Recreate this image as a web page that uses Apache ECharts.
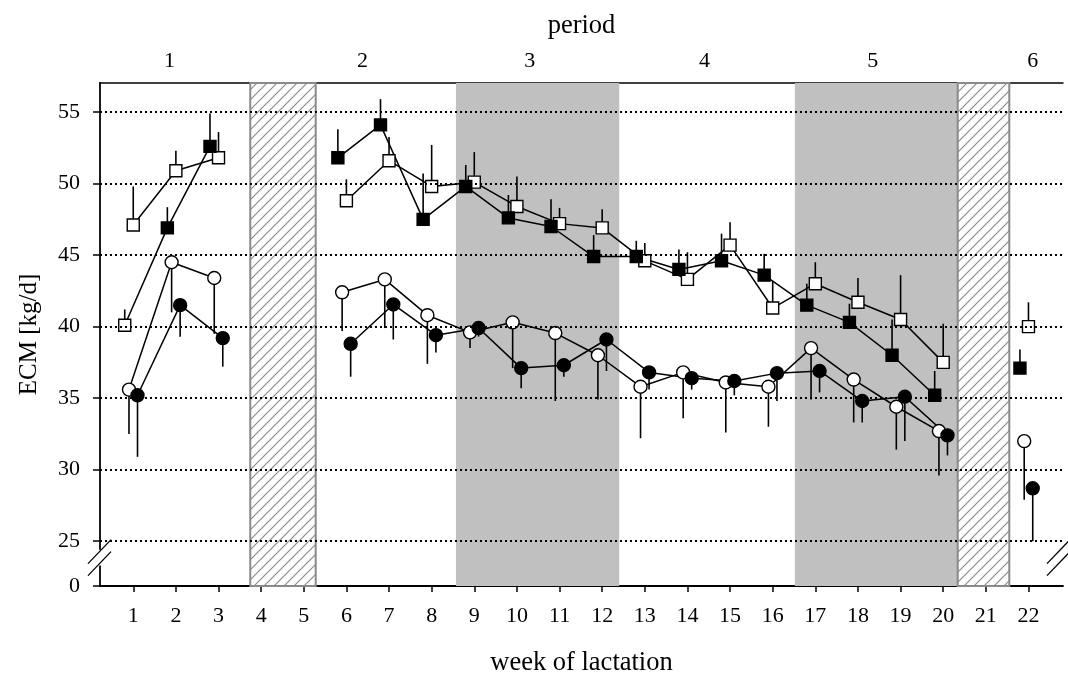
<!DOCTYPE html>
<html>
<head>
<meta charset="utf-8">
<script src="https://cdn.jsdelivr.net/npm/echarts@6/dist/echarts.min.js"></script>
<style>
html,body{margin:0;padding:0;background:#fff;}
#chart{width:1068px;height:680px;}
</style>
</head>
<body>
<div id="chart"></div>
<script>
// ---------- data ----------
const weeks = [1,2,3,4,5,6,7,8,9,10,11,12,13,14,15,16,17,18,19,20,21,22];
// open squares
const openSq    = [47.1,50.9,51.8,null,null,48.8,51.6,49.8,50.1,48.4,47.2,46.9,44.6,43.3,45.7,41.3,43.0,41.7,40.5,37.5,null,40.0];
const openSqErr = [49.8,52.3,53.6,null,null,50.3,53.25,52.7,52.2,50.5,48.3,48.2,45.85,45.2,47.3,43.2,44.5,43.4,43.6,40.2,null,41.7];
// filled squares
const fillSq    = [40.1,46.9,52.6,null,null,51.8,54.1,47.5,49.8,47.6,47.0,44.9,44.9,44.0,44.6,43.6,41.5,40.3,38.0,35.2,null,37.1];
const fillSqErr = [41.2,48.35,54.9,null,null,53.8,55.9,50.7,51.3,49.2,48.9,46.4,46.0,45.4,46.5,45.1,43.0,41.6,40.5,36.9,null,38.4];
// open circles
const openCi    = [35.6,44.5,43.4,null,null,42.4,43.3,40.8,39.6,40.3,39.55,38.0,35.8,36.8,36.1,35.8,38.5,36.3,34.4,32.7,null,32.0];
const openCiErr = [32.5,41.0,39.5,null,null,39.7,39.9,37.4,38.5,37.1,34.8,34.9,32.2,33.6,32.6,33.0,34.9,33.3,31.4,29.6,null,27.9];
// filled circles
const fillCi    = [35.2,41.5,39.2,null,null,38.8,41.55,39.4,39.9,37.1,37.3,39.1,36.8,36.4,36.2,36.75,36.9,34.8,35.1,32.4,null,28.7];
const fillCiErr = [30.9,39.3,37.2,null,null,36.5,39.1,38.2,39.3,35.7,36.5,36.9,35.6,35.6,35.2,34.8,35.4,33.3,32.0,31.0,null,25.0];

const yTicks = [25,30,35,40,45,50,55];
const periodLabels = ['1','2','3','4','5','6'];
const periodTickPos = [1.85,6.38,10.3,14.4,18.35,22.1];
const grayBands  = [[8.57,12.40],[16.52,20.34]];
const hatchBands = [[3.745,5.28],[20.34,21.55]];

// ---------- axis constants ----------
const X_MIN = 0.22, X_MAX = 22.81;
const Y_MIN = 21.87, Y_MAX = 57.03;   // Y_MIN is shown as "0" (broken axis)
const FONT = 'Liberation Serif';

// hatch pattern
const T = 10;
const pat = document.createElement('canvas');
pat.width = T; pat.height = T;
(function(){
  const c = pat.getContext('2d');
  c.fillStyle = '#fff'; c.fillRect(0,0,T,T);
  c.strokeStyle = '#8c8c8c'; c.lineWidth = 1.2;
  c.beginPath();
  c.moveTo(-1,T+1); c.lineTo(T+1,-1);
  c.moveTo(-1,1); c.lineTo(1,-1);
  c.moveTo(T-1,T+1); c.lineTo(T+1,T-1);
  c.stroke();
})();

function build(vals, off, whiteWeeks) {
  return weeks.map((w,i) => {
    const v = vals[i];
    if (v === null) return [w+off, '-'];
    if (whiteWeeks && whiteWeeks.indexOf(w) >= 0) return {value:[w+off, v], itemStyle:{color:'#fff'}};
    return [w+off, v];
  });
}
function buildErr(vals, errs, off) {
  const out = [];
  weeks.forEach((w,i) => { if (vals[i] !== null) out.push([w+off, vals[i], errs[i]]); });
  return out;
}

const OFF_FSQ = -0.2, OFF_OSQ = 0.0, OFF_OCI = -0.1, OFF_FCI = 0.1;

function errSeries(vals, errs, off) {
  return {
    type:'custom', xAxisIndex:0, yAxisIndex:0, z:2, silent:true,
    data: buildErr(vals, errs, off),
    encode:{x:0, y:[1,2]},
    renderItem:(params, api) => {
      const p1 = api.coord([api.value(0), api.value(1)]);
      const p2 = api.coord([api.value(0), api.value(2)]);
      return {type:'line', shape:{x1:p1[0],y1:p1[1],x2:p2[0],y2:p2[1]},
              style:{stroke:'#000', lineWidth:1.6}};
    }
  };
}
function lineSeries(name, vals, off, symbol, size, filled, whiteWeeks) {
  return {
    name, type:'line', xAxisIndex:0, yAxisIndex:0, z:3,
    data: build(vals, off, whiteWeeks),
    symbol, symbolSize:size, showSymbol:true, connectNulls:false,
    lineStyle:{color:'#000', width:1.5},
    itemStyle:{color: filled ? '#000' : '#fff', borderColor:'#000', borderWidth:1.4, opacity:1},
    emphasis:{disabled:true}, animation:false
  };
}

const chart = echarts.init(document.getElementById('chart'), null, {renderer:'canvas'});

const option = {
  animation:false,
  backgroundColor:'#fff',
  textStyle:{fontFamily:FONT},
  grid:{left:100, right:5, top:83, bottom:94, containLabel:false, outerBoundsMode:'none'},
  xAxis:[{
    type:'value', min:X_MIN, max:X_MAX, position:'bottom',
    name:'week of lactation', nameLocation:'middle', nameGap:64,
    nameTextStyle:{fontFamily:FONT, fontSize:26.5, color:'#000'},
    axisLine:{show:true, onZero:false, lineStyle:{color:'#000', width:1.8}},
    axisTick:{show:true, customValues:weeks, length:6, inside:false, lineStyle:{color:'#000', width:1.5}},
    axisLabel:{customValues:weeks, margin:19, fontFamily:FONT, fontSize:22, color:'#000'},
    splitLine:{show:false}
  },{
    type:'value', min:X_MIN, max:X_MAX, position:'top',
    name:'period', nameLocation:'middle', nameGap:43,
    nameTextStyle:{fontFamily:FONT, fontSize:26.5, color:'#000'},
    axisLine:{show:true, onZero:false, lineStyle:{color:'#000', width:1.5}},
    axisTick:{show:false},
    axisLabel:{customValues:periodTickPos, margin:11, fontFamily:FONT, fontSize:22, color:'#000',
      formatter:(v) => { const i = periodTickPos.indexOf(v); return i>=0 ? periodLabels[i] : ''; }},
    splitLine:{show:false}
  }],
  yAxis:[{
    type:'value', min:Y_MIN, max:Y_MAX,
    name:'ECM [kg/d]', nameLocation:'middle', nameGap:58, nameRotate:90,
    nameTextStyle:{fontFamily:FONT, fontSize:25, color:'#000'},
    axisLine:{show:true, onZero:false, lineStyle:{color:'#000', width:1.8}},
    axisTick:{show:true, customValues:[Y_MIN].concat(yTicks), length:7, lineStyle:{color:'#000', width:1.5}},
    axisLabel:{customValues:[Y_MIN].concat(yTicks), margin:20, fontFamily:FONT, fontSize:22, color:'#000',
      formatter:(v) => v < yTicks[0] ? '0' : String(v)},
    splitLine:{show:false}
  }],
  series:[
    { // background bands
      type:'line', data:[], z:0, silent:true,
      markArea:{
        silent:true,
        data: grayBands.map(b => [{xAxis:b[0], itemStyle:{color:'#c0c0c0', borderWidth:0}}, {xAxis:b[1]}])
          .concat(hatchBands.map(b => [{xAxis:b[0], itemStyle:{color:{image:pat, repeat:'repeat'}, borderColor:'#8a8a8a', borderWidth:2}}, {xAxis:b[1]}]))
      }
    },
    { // dotted grid lines
      type:'line', data:[], z:1, silent:true,
      markLine:{
        silent:true, symbol:['none','none'], animation:false,
        label:{show:false},
        lineStyle:{color:'#000', type:[2,3], width:2},
        emphasis:{disabled:true},
        data: yTicks.map(t => ({yAxis:t}))
      }
    },
    errSeries(openSq, openSqErr, OFF_OSQ),
    errSeries(fillSq, fillSqErr, OFF_FSQ),
    errSeries(openCi, openCiErr, OFF_OCI),
    errSeries(fillCi, fillCiErr, OFF_FCI),
    lineSeries('open squares', openSq, OFF_OSQ, 'rect', 12, false),
    lineSeries('filled squares', fillSq, OFF_FSQ, 'rect', 12, true, [1]),
    lineSeries('open circles', openCi, OFF_OCI, 'circle', 13, false),
    lineSeries('filled circles', fillCi, OFF_FCI, 'circle', 13, true)
  ]
};
chart.setOption(option);

// axis-break decorations, positioned from the axes
(function(){
  const xl = chart.convertToPixel({xAxisIndex:0}, X_MIN);
  const xr = chart.convertToPixel({xAxisIndex:0}, X_MAX);
  const yTop = chart.convertToPixel({yAxisIndex:0}, 24.4);
  const yBot = chart.convertToPixel({yAxisIndex:0}, 23.3);
  const yMid = (yTop + yBot) / 2;
  const mk = (cx, cy) => ([
    {type:'line', shape:{x1:cx-12, y1:cy+6, x2:cx+11, y2:cy-18}, style:{stroke:'#000', lineWidth:1.3}, z:100},
    {type:'line', shape:{x1:cx-12, y1:cy+18, x2:cx+11, y2:cy-6}, style:{stroke:'#000', lineWidth:1.3}, z:100}
  ]);
  const els = [
    {type:'rect', shape:{x:xl-2, y:yTop, width:4, height:yBot-yTop}, style:{fill:'#fff'}, z:99}
  ].concat(mk(xl, yMid)).concat(mk(xr-4, yMid));
  chart.setOption({graphic:{elements:els}});
})();
</script>
</body>
</html>
